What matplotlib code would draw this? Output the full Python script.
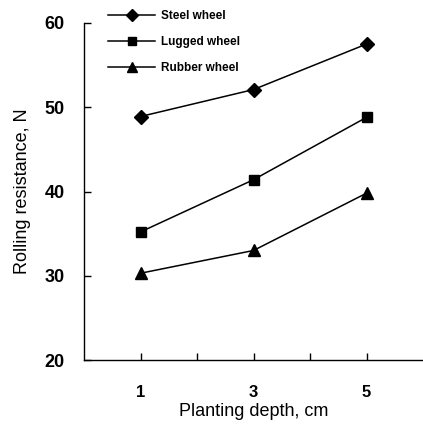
import matplotlib
matplotlib.use("Agg")
import matplotlib.pyplot as plt

# %% Data
depth = [1, 3, 5]
steel = [48.9, 52.1, 57.5]
lugged = [35.2, 41.4, 48.8]
rubber = [30.3, 33.0, 39.8]
series_names = ["Steel wheel", "Lugged wheel", "Rubber wheel"]
x_ticks = [1, 2, 3, 4, 5]
x_tick_labels = ["1", "", "3", "", "5"]
y_ticks = [20, 30, 40, 50, 60]

plt.rcParams["font.family"] = ["Liberation Sans", "DejaVu Sans"]

# %% Figure
fig = plt.figure(figsize=(4.23, 4.29), dpi=100)
ax = fig.add_axes([0.1986, 0.1608, 0.8014, 0.7856])

ax.plot(depth, steel, color="black", lw=1.1, marker="D", ms=7, label=series_names[0])
ax.plot(depth, lugged, color="black", lw=1.1, marker="s", ms=7.5, label=series_names[1])
ax.plot(depth, rubber, color="black", lw=1.1, marker="^", ms=8.5, label=series_names[2])

ax.set_xlim(0, 6)
ax.set_ylim(20, 60)
ax.set_xticks(x_ticks)
ax.set_xticklabels(x_tick_labels, fontweight="bold", fontsize=12)
ax.set_yticks(y_ticks)
ax.set_yticklabels([str(v) for v in y_ticks], fontweight="bold", fontsize=13)
ax.tick_params(axis="x", direction="in", length=5, width=1, pad=18)
ax.tick_params(axis="y", direction="in", length=5, width=1, pad=14)

for side in ["top", "right"]:
    ax.spines[side].set_visible(False)
for side in ["left", "bottom"]:
    ax.spines[side].set_linewidth(1)

ax.set_xlabel("Planting depth, cm", fontsize=13, labelpad=2)
ax.set_ylabel("Rolling resistance, N", fontsize=13, labelpad=10)

leg = ax.legend(loc="upper left", bbox_to_anchor=(0.04, 1.07), frameon=False,
                prop={"weight": "bold", "size": 8.5}, handlelength=4.0,
                handletextpad=0.5, labelspacing=1.2, markerscale=0.85)

fig.savefig("out.png", dpi=100)
